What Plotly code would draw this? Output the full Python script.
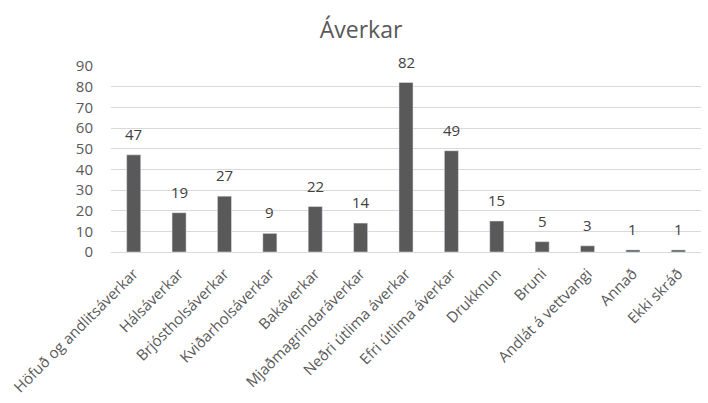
import plotly.graph_objects as go

categories = ["Höfuð og andlitsáverkar", "Hálsáverkar", "Brjóstholsáverkar", "Kviðarholsáverkar",
              "Bakáverkar", "Mjaðmagrindaráverkar", "Neðri útlima áverkar", "Efri útlima áverkar",
              "Drukknun", "Bruni", "Andlát á vettvangi", "Annað", "Ekki skráð"]
values = [47, 19, 27, 9, 22, 14, 82, 49, 15, 5, 3, 1, 1]

font_family = "Open Sans, Liberation Sans, sans-serif"
text_color = "#595959"

fig = go.Figure(go.Bar(
    x=categories, y=values,
    marker=dict(color="#595959"),
    cliponaxis=False,
))

for c, v in zip(categories, values):
    fig.add_annotation(x=c, y=v, text=str(v), showarrow=False, yanchor="bottom", yshift=9,
                       font=dict(size=15, color="#404040", family=font_family))

fig.update_layout(
    width=708, height=403,
    margin=dict(l=111, r=7, t=66, b=151),
    paper_bgcolor="white", plot_bgcolor="white",
    title=dict(text="Áverkar", x=0.51, xanchor="center", y=0.925, yanchor="middle",
               font=dict(size=23, color=text_color, family=font_family)),
    bargap=0.69,
    showlegend=False,
    font=dict(family=font_family, color=text_color),
)
fig.update_xaxes(tickangle=-45, tickfont=dict(size=15, color=text_color), showline=True,
                 linecolor="#d9d9d9", ticks="outside", ticklen=6, tickcolor="rgba(0,0,0,0)")
fig.update_yaxes(range=[0, 90], dtick=10, gridcolor="#d9d9d9", tickfont=dict(size=15, color=text_color),
                 zeroline=False, ticks="outside", ticklen=14, tickcolor="rgba(0,0,0,0)")

fig.write_html("out.html")
